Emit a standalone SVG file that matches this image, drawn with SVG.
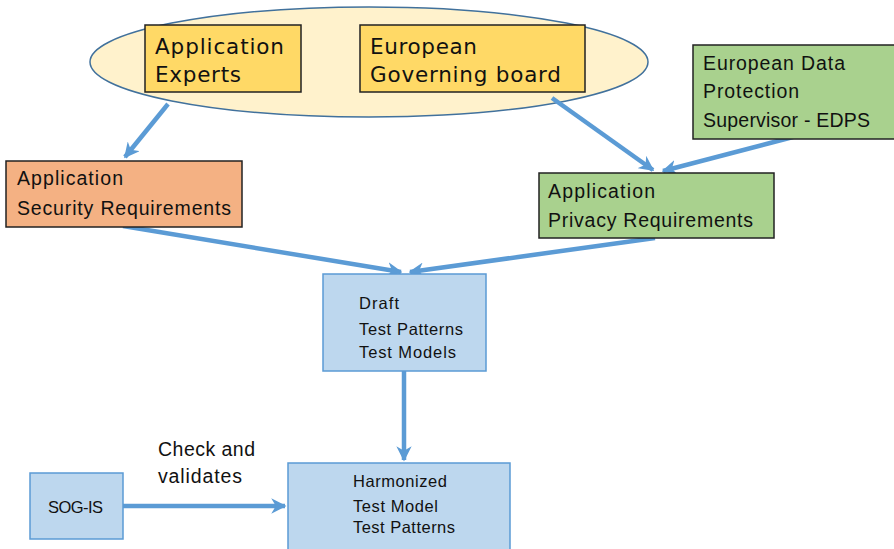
<svg xmlns="http://www.w3.org/2000/svg" width="894" height="549" viewBox="0 0 894 549">
<style>
.box{stroke:#222;stroke-width:1.5}
.yel{fill:#FFD966}
.org{fill:#F4B183}
.grn{fill:#A9D18E}
.blu{fill:#BDD7EE;stroke:#5B9BD5;stroke-width:1.5}
.v{font-family:"DejaVu Sans",Verdana,sans-serif;font-size:21.5px;fill:#111}
.c{font-family:"Liberation Sans",Arial,sans-serif;fill:#111}
.c20{font-size:19.5px}
.c16{font-size:16.5px}
.con{stroke:#5B9BD5;stroke-width:4.5;fill:none;marker-end:url(#ah)}
</style>
<defs>
<marker id="ah" viewBox="0 0 10 10" refX="9" refY="5" markerWidth="3.4" markerHeight="3.4" orient="auto" markerUnits="strokeWidth">
<path d="M0,0 L10,5 L0,10 L3,5 z" fill="#5B9BD5"/>
</marker>
</defs>
<rect width="894" height="549" fill="#fff"/>
<g id="ellipse">
<ellipse cx="369" cy="62" rx="279" ry="55" fill="#FFF2CC" stroke="#41719C" stroke-width="1.5"/>
</g>
<g id="connectors">
<line class="con" x1="168" y1="104" x2="125" y2="157"/>
<line class="con" x1="552" y1="98" x2="653" y2="170"/>
<line class="con" x1="793" y1="137" x2="663" y2="171"/>
<line class="con" x1="123" y1="226" x2="401" y2="272"/>
<line class="con" x1="655" y1="238" x2="410" y2="272"/>
<line class="con" x1="404" y1="371" x2="404" y2="460"/>
<line class="con" x1="123" y1="506" x2="285" y2="506"/>
</g>
<g id="app-experts">
<rect class="box yel" x="145" y="25" width="156" height="67"/>
<text class="v" x="155" y="54" textLength="129" lengthAdjust="spacing">Application</text>
<text class="v" x="155" y="82" textLength="86" lengthAdjust="spacing">Experts</text>
</g>
<g id="governing-board">
<rect class="box yel" x="360" y="25" width="225" height="67"/>
<text class="v" x="370" y="54" textLength="107" lengthAdjust="spacing">European</text>
<text class="v" x="370" y="82" textLength="191" lengthAdjust="spacing">Governing board</text>
</g>
<g id="edps">
<rect class="box grn" x="693" y="45" width="205" height="94"/>
<text class="c c20" x="703" y="70" textLength="142" lengthAdjust="spacing">European Data</text>
<text class="c c20" x="703" y="98" textLength="96" lengthAdjust="spacing">Protection</text>
<text class="c c20" x="703" y="127" textLength="167" lengthAdjust="spacing">Supervisor - EDPS</text>
</g>
<g id="security-req">
<rect class="box org" x="6" y="161" width="236" height="66"/>
<text class="c c20" x="17" y="185" textLength="106" lengthAdjust="spacing">Application</text>
<text class="c c20" x="17" y="215" textLength="214" lengthAdjust="spacing">Security Requirements</text>
</g>
<g id="privacy-req">
<rect class="box grn" x="539" y="173" width="235" height="65"/>
<text class="c c20" x="548" y="198" textLength="107" lengthAdjust="spacing">Application</text>
<text class="c c20" x="548" y="227" textLength="205" lengthAdjust="spacing">Privacy Requirements</text>
</g>
<g id="draft">
<rect class="blu" x="323" y="274" width="163" height="97"/>
<text class="c c16" x="359" y="309" textLength="40" lengthAdjust="spacing">Draft</text>
<text class="c c16" x="359" y="335" textLength="104" lengthAdjust="spacing">Test Patterns</text>
<text class="c c16" x="359" y="358" textLength="97" lengthAdjust="spacing">Test Models</text>
</g>
<g id="harmonized">
<rect class="blu" x="288" y="463" width="222" height="90"/>
<text class="c c16" x="353" y="487" textLength="94" lengthAdjust="spacing">Harmonized</text>
<text class="c c16" x="353" y="512" textLength="85" lengthAdjust="spacing">Test Model</text>
<text class="c c16" x="353" y="533" textLength="102" lengthAdjust="spacing">Test Patterns</text>
</g>
<g id="sog-is">
<rect class="blu" x="30" y="473" width="93" height="66"/>
<text class="c c16" x="48" y="513" textLength="55" lengthAdjust="spacing">SOG-IS</text>
</g>
<g id="label">
<text class="c c20" x="158" y="456" textLength="97" lengthAdjust="spacing">Check and</text>
<text class="c c20" x="158" y="483" textLength="84" lengthAdjust="spacing">validates</text>
</g>
</svg>
